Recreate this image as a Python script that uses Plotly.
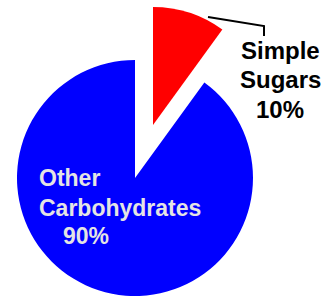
import plotly.graph_objects as go

# ---- data ----
labels = ["Simple Sugars", "Other Carbohydrates"]
values = [10, 90]
percent_text = ["10%", "90%"]
slice_colors = ["#FF0000", "#0000FF"]

W, H = 327, 299
CLEAR = "rgba(0,0,0,0)"


def dom(cx, cy, r):
    return dict(x=[(cx - r) / W, (cx + r) / W], y=[1 - (cy + r) / H, 1 - (cy - r) / H])


fig = go.Figure()
# main (blue) pie, exploded slice left empty
fig.add_trace(go.Pie(
    labels=labels, values=values, sort=False, direction="clockwise", rotation=0,
    marker=dict(colors=[CLEAR, slice_colors[1]], line=dict(width=0)),
    textinfo="none", hoverinfo="skip", showlegend=False,
    domain=dom(135, 178, 118),
))
# exploded (red) slice
fig.add_trace(go.Pie(
    labels=labels, values=values, sort=False, direction="clockwise", rotation=0,
    marker=dict(colors=[slice_colors[0], CLEAR], line=dict(width=0)),
    textinfo="none", hoverinfo="skip", showlegend=False,
    domain=dom(153, 125, 118),
))

# leader line for the exploded slice
fig.add_shape(type="path", xref="paper", yref="paper",
              path=f"M {208/W} {1-17/H} L {264/W} {1-26/H} L {264/W} {1-36/H}",
              line=dict(color="black", width=2))

anns = []
red_lines = labels[0].split(" ") + [percent_text[0]]
for t, yc in zip(red_lines, [50, 79, 109]):
    anns.append(dict(text=t, x=280 / W, y=1 - yc / H, xref="paper", yref="paper",
                     xanchor="center", yanchor="middle", showarrow=False,
                     font=dict(family="Liberation Sans", size=24, color="black", weight="bold")))
blue_lines = labels[1].split(" ") + [percent_text[1]]
for t, xl, yc in zip(blue_lines, [37, 37, 61], [178, 208, 236]):
    anns.append(dict(text=t, x=xl / W, y=1 - yc / H, xref="paper", yref="paper",
                     xanchor="left", yanchor="middle", showarrow=False,
                     font=dict(family="Liberation Sans", size=23, color="#E4E4E4", weight="bold")))

fig.update_layout(width=W, height=H, margin=dict(l=0, r=0, t=0, b=0),
                  paper_bgcolor="white", plot_bgcolor="white", annotations=anns)
fig.write_html("out.html", config={"displayModeBar": False},
               post_script="document.body.style.margin='0px';document.body.style.padding='0px';")
